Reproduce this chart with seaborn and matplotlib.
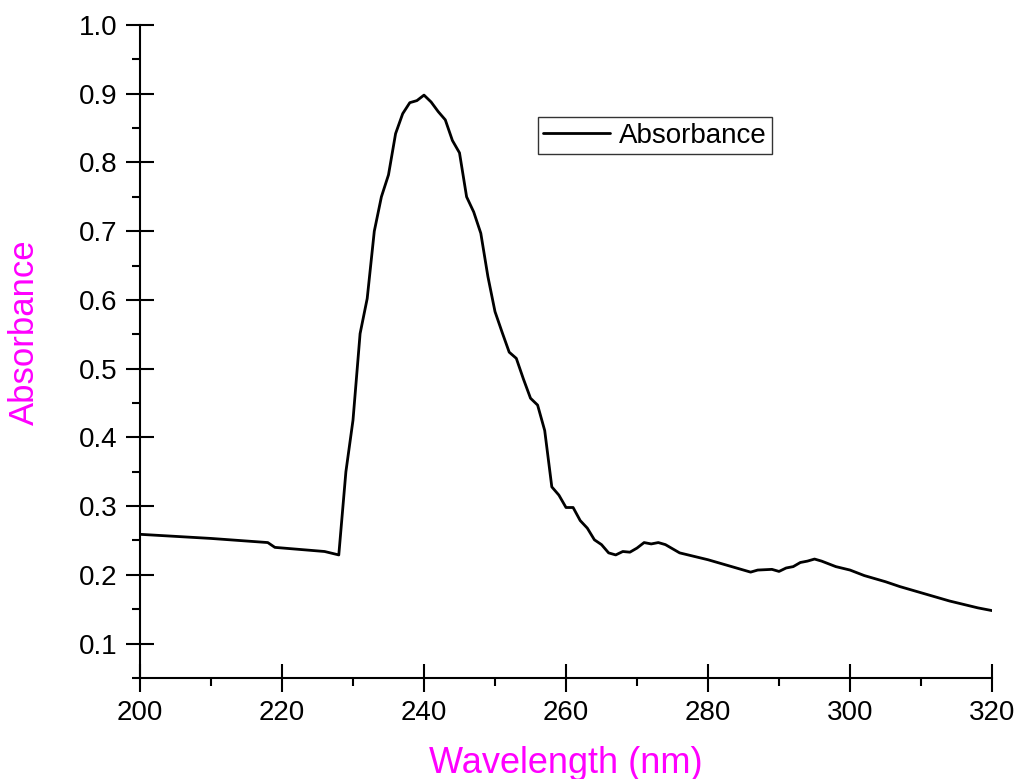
import matplotlib
matplotlib.use("Agg")
import matplotlib.pyplot as plt
import seaborn as sns
import pandas as pd
from matplotlib.ticker import FixedLocator

# UV absorption spectrum
wavelength = [200, 210, 218, 219, 226, 228, 229, 230, 231, 232, 233, 234, 235, 236,
              237, 238, 239, 240, 241, 242, 243, 244, 245, 246, 247, 248, 249, 250,
              251, 252, 253, 254, 255, 256, 257, 258, 259, 260, 261, 262, 263, 264,
              265, 266, 267, 268, 269, 270, 271, 272, 273, 274, 275, 276, 278, 280,
              282, 284, 286, 287, 289, 290, 291, 292, 293, 294, 295, 296, 298, 300,
              302, 305, 307, 310, 312, 314, 316, 318, 320]
absorbance = [0.259, 0.253, 0.247, 0.240, 0.234, 0.229, 0.350, 0.425, 0.551, 0.602,
              0.700, 0.750, 0.782, 0.842, 0.871, 0.887, 0.890, 0.898, 0.888, 0.874,
              0.862, 0.832, 0.814, 0.750, 0.728, 0.697, 0.634, 0.583, 0.553, 0.524,
              0.515, 0.485, 0.457, 0.447, 0.410, 0.328, 0.316, 0.298, 0.298, 0.279,
              0.268, 0.251, 0.244, 0.232, 0.229, 0.234, 0.233, 0.239, 0.247, 0.245,
              0.247, 0.244, 0.238, 0.232, 0.227, 0.222, 0.216, 0.210, 0.204, 0.207,
              0.208, 0.205, 0.210, 0.212, 0.218, 0.220, 0.223, 0.220, 0.212, 0.207,
              0.199, 0.190, 0.183, 0.174, 0.168, 0.162, 0.157, 0.152, 0.148]

x_major = [200, 220, 240, 260, 280, 300, 320]
x_minor = [210, 230, 250, 270, 290, 310]
y_major = [0.1, 0.2, 0.3, 0.4, 0.5, 0.6, 0.7, 0.8, 0.9, 1.0]
y_minor = [0.05, 0.15, 0.25, 0.35, 0.45, 0.55, 0.65, 0.75, 0.85, 0.95]
y_labels = [f"{v:.1f}" for v in y_major]

sns.set_style("ticks")
plt.rcParams["font.family"] = ["Liberation Sans", "DejaVu Sans"]
plt.rcParams["text.color"] = "black"

df = pd.DataFrame({"Wavelength": wavelength, "Absorbance": absorbance})

fig, ax = plt.subplots(figsize=(10.18, 7.79), dpi=100)
fig.subplots_adjust(left=0.1375, right=0.9745, top=0.9679, bottom=0.1297)

sns.lineplot(data=df, x="Wavelength", y="Absorbance", color="black",
             linewidth=2.0, label="Absorbance", ax=ax)

ax.set_xlim(200, 320)
ax.set_ylim(0.05, 1.0)
ax.xaxis.set_major_locator(FixedLocator(x_major))
ax.xaxis.set_minor_locator(FixedLocator(x_minor))
ax.yaxis.set_major_locator(FixedLocator(y_major))
ax.yaxis.set_minor_locator(FixedLocator(y_minor))
ax.set_yticklabels(y_labels)

sns.despine(ax=ax)
for side in ("left", "bottom"):
    ax.spines[side].set_linewidth(1.5)
    ax.spines[side].set_color("black")

ax.tick_params(which="major", direction="inout", length=20, width=1.5,
               labelsize=20, colors="black", pad=6)
ax.tick_params(which="minor", direction="out", length=6, width=1.5, colors="black")

ax.set_xlabel("Wavelength (nm)", fontsize=26, color="#ff00ff")
ax.set_ylabel("Absorbance", fontsize=25, color="#ff00ff")
ax.xaxis.set_label_coords(0.5, -0.104)
ax.yaxis.set_label_coords(-0.116, 0.53)

leg = ax.legend(loc="upper left", bbox_to_anchor=(0.467, 0.859), fontsize=20,
                frameon=True, fancybox=False, framealpha=1, edgecolor="#333333",
                handlelength=2.4, handletextpad=0.3, borderpad=0.2,
                borderaxespad=0)
leg.get_frame().set_linewidth(1.0)
for txt in leg.get_texts():
    txt.set_color("black")

fig.savefig("out.png", dpi=100)
